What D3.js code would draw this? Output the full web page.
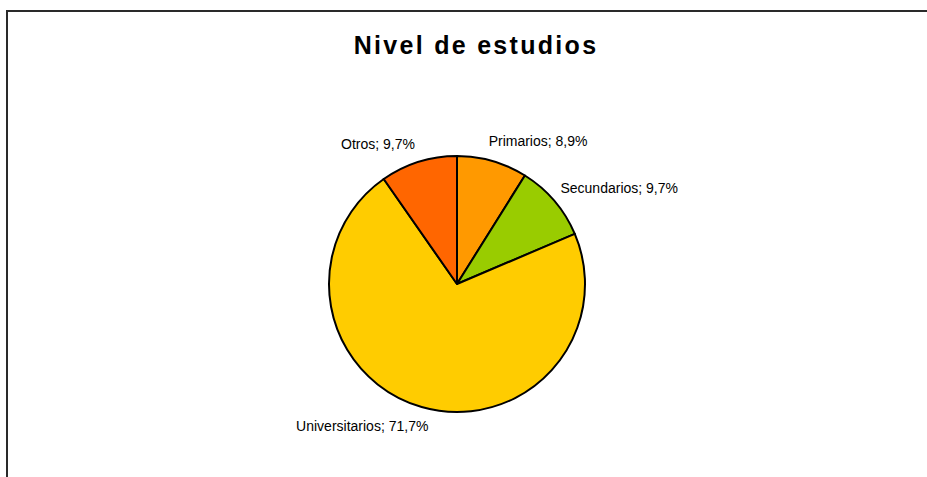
<!DOCTYPE html>
<html>
<head>
<meta charset="utf-8">
<script src="https://cdn.jsdelivr.net/npm/d3@7"></script>
<style>
  html, body { margin: 0; padding: 0; background: #fff; }
  svg { display: block; }
</style>
</head>
<body>
<script>
const categories = ["Primarios", "Secundarios", "Universitarios", "Otros"];
const values = [8.9, 9.7, 71.7, 9.7];
const valueLabels = ["8,9%", "9,7%", "71,7%", "9,7%"];
const colors = ["#FF9900", "#99CC00", "#FFCC00", "#FF6600"];
// small label nudges (layout only)
const labelDx = [-7, -3, 10, 0];
const labelDy = [0, 1, 1, 2];

const W = 927, H = 477;
const cx = 457, cy = 284, r = 128;

const svg = d3.select("body").append("svg").attr("width", W).attr("height", H);

svg.append("rect").attr("x", 7).attr("y", 11).attr("width", W + 20).attr("height", H + 20)
  .attr("fill", "#fff").attr("stroke", "#2a2a2a").attr("stroke-width", 2);

svg.append("text").attr("x", 476).attr("y", 54).attr("text-anchor", "middle")
  .attr("font-family", "'Liberation Sans', Arial, sans-serif").attr("font-weight", "bold")
  .attr("font-size", 25).attr("letter-spacing", "2.3px").attr("fill", "#000")
  .text("Nivel de estudios");

const data = categories.map((c, i) => ({ cat: c, value: values[i], label: valueLabels[i], color: colors[i], i }));
const pie = d3.pie().value(d => d.value).sort(null);
const arcs = pie(data);
const arc = d3.arc().innerRadius(0).outerRadius(r);

const g = svg.append("g").attr("transform", `translate(${cx},${cy})`);
g.selectAll("path").data(arcs).join("path")
  .attr("d", arc).attr("fill", d => d.data.color)
  .attr("stroke", "#000").attr("stroke-width", 2).attr("stroke-linejoin", "round");

const lr = r + 12;
g.selectAll("text.lbl").data(arcs).join("text").attr("class", "lbl")
  .each(function(d) {
    const a = (d.startAngle + d.endAngle) / 2;
    const s = Math.sin(a), c = Math.cos(a);
    const px = lr * s, py = -lr * c;
    d3.select(this)
      .attr("x", px + labelDx[d.data.i])
      .attr("y", py + 4 - 8 * c + labelDy[d.data.i])
      .attr("text-anchor", s >= 0 ? "start" : "end");
  })
  .attr("font-family", "'Liberation Sans', Arial, sans-serif").attr("font-size", 14).attr("fill", "#000")
  .text(d => `${d.data.cat}; ${d.data.label}`);
</script>
</body>
</html>
